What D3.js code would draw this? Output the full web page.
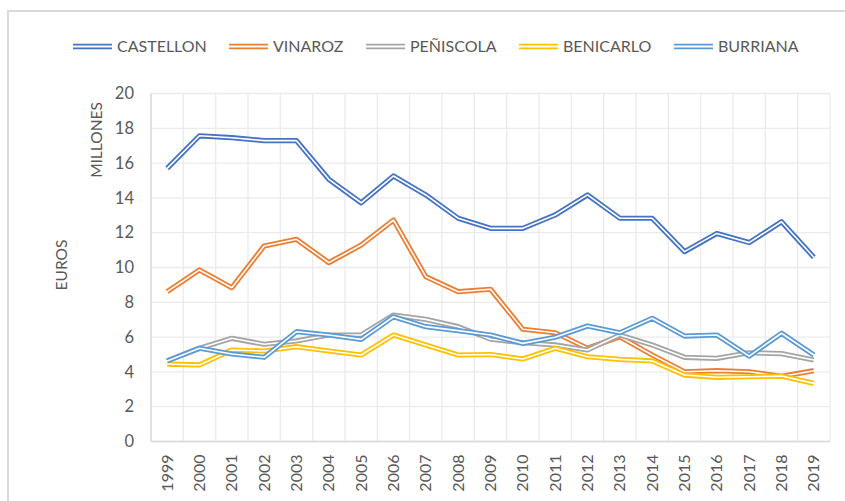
<!DOCTYPE html>
<html><head><meta charset="utf-8">
<script src="https://cdn.jsdelivr.net/npm/d3@7"></script>
<style>body{margin:0;background:#fff}svg{display:block}text{font-family:Lato,"Open Sans",sans-serif;fill:#595959}</style>
</head><body><svg id="c" width="845" height="501"></svg>
<script>
const years = ["1999","2000","2001","2002","2003","2004","2005","2006","2007","2008","2009","2010","2011","2012","2013","2014","2015","2016","2017","2018","2019"];
const seriesNames = ["CASTELLON","VINAROZ","PEÑISCOLA","BENICARLO","BURRIANA"];
const seriesColors = ["#4472c4","#ed7d31","#a5a5a5","#ffc000","#5b9bd5"];
const castellon = [15.7,17.57,17.46,17.29,17.29,15.07,13.72,15.26,14.17,12.83,12.25,12.25,13.02,14.17,12.83,12.83,10.91,11.96,11.43,12.63,10.59];
const vinaroz   = [8.61,9.86,8.84,11.24,11.62,10.28,11.29,12.73,9.47,8.61,8.75,6.45,6.25,5.36,6.02,4.97,4.01,4.07,4.01,3.74,4.07];
const peniscola = [4.63,5.36,5.93,5.59,5.78,6.12,6.12,7.27,7.02,6.6,5.88,5.68,5.55,5.26,6.12,5.55,4.84,4.78,5.1,5.05,4.68];
const benicarlo = [4.45,4.4,5.26,5.2,5.45,5.2,4.97,6.12,5.55,4.97,5.0,4.74,5.36,4.87,4.72,4.63,3.82,3.69,3.72,3.76,3.34];
const burriana  = [4.63,5.36,5.03,4.84,6.31,6.12,5.87,7.17,6.6,6.37,6.12,5.64,5.99,6.64,6.25,7.08,6.06,6.12,4.91,6.22,4.97];
const yTicks = [0,2,4,6,8,10,12,14,16,18,20];
const allSeries = [castellon,vinaroz,peniscola,benicarlo,burriana];

const svg = d3.select("#c");
svg.append("path").attr("d","M8,501 V11 H845").attr("fill","none").attr("stroke","#d9d9d9").attr("stroke-width",2);

const x = d3.scaleBand().domain(years).range([151,830]);
const y = d3.scaleLinear().domain([0,20]).range([441.5,93.5]);

const g = svg.append("g");
g.selectAll(".hg").data(yTicks).enter().append("line")
  .attr("x1",151).attr("x2",830).attr("y1",d=>y(d)).attr("y2",d=>y(d))
  .attr("stroke","#ebebeb").attr("stroke-width",1.3);
const bounds = years.map(d=>x(d)).concat([x(years[years.length-1])+x.bandwidth()]);
g.selectAll(".vg").data(bounds).enter().append("line")
  .attr("x1",d=>d).attr("x2",d=>d).attr("y1",y(20)).attr("y2",y(0))
  .attr("stroke","#ebebeb").attr("stroke-width",1.3);
svg.append("line").attr("x1",151).attr("x2",151).attr("y1",y(20)).attr("y2",y(0)).attr("stroke","#d9d9d9").attr("stroke-width",1.3);
svg.append("line").attr("x1",151).attr("x2",830).attr("y1",y(0)).attr("y2",y(0)).attr("stroke","#d9d9d9").attr("stroke-width",1.3);

const ya = svg.append("g").attr("transform","translate(151,0)").call(d3.axisLeft(y).tickValues(yTicks).tickSize(0).tickPadding(17));
ya.select(".domain").remove();
ya.selectAll("text").style("font-size","16.5px").style("font-family","Lato, sans-serif").attr("fill","#595959");

const xa = svg.append("g").attr("transform","translate(0,441.5)").call(d3.axisBottom(x).tickSize(0));
xa.select(".domain").remove();
xa.selectAll("text").style("font-size","16px").style("font-family","Lato, sans-serif").attr("fill","#595959")
  .attr("transform","rotate(-90)").attr("text-anchor","end").attr("dy","0.35em").attr("x",-13).attr("y",0);

svg.append("text").attr("transform","translate(102,140) rotate(-90)").attr("text-anchor","middle").style("font-size","15.5px").text("MILLONES");
svg.append("text").attr("transform","translate(67,265) rotate(-90)").attr("text-anchor","middle").style("font-size","15.5px").text("EUROS");

const line = d3.line().x((d,i)=>x(years[i])+x.bandwidth()/2).y(d=>y(d)).curve(d3.curveLinear);
allSeries.forEach((s,i)=>{
  svg.append("path").attr("d",line(s)).attr("fill","none").attr("stroke",seriesColors[i]).attr("stroke-width",5.2).attr("stroke-linejoin","round");
  svg.append("path").attr("d",line(s)).attr("fill","none").attr("stroke","#fff").attr("stroke-width",1.6).attr("stroke-linejoin","round");
});

const legX = [73,229,366,519,674];
seriesNames.forEach((n,i)=>{
  const lg = svg.append("g");
  lg.append("line").attr("x1",legX[i]).attr("x2",legX[i]+39).attr("y1",46.5).attr("y2",46.5).attr("stroke",seriesColors[i]).attr("stroke-width",5.5);
  lg.append("line").attr("x1",legX[i]).attr("x2",legX[i]+39).attr("y1",46.5).attr("y2",46.5).attr("stroke","#fff").attr("stroke-width",1.8);
  lg.append("text").attr("x",legX[i]+44).attr("y",46.5).attr("dy","0.36em").style("font-size","16px").text(n);
});
</script></body></html>
